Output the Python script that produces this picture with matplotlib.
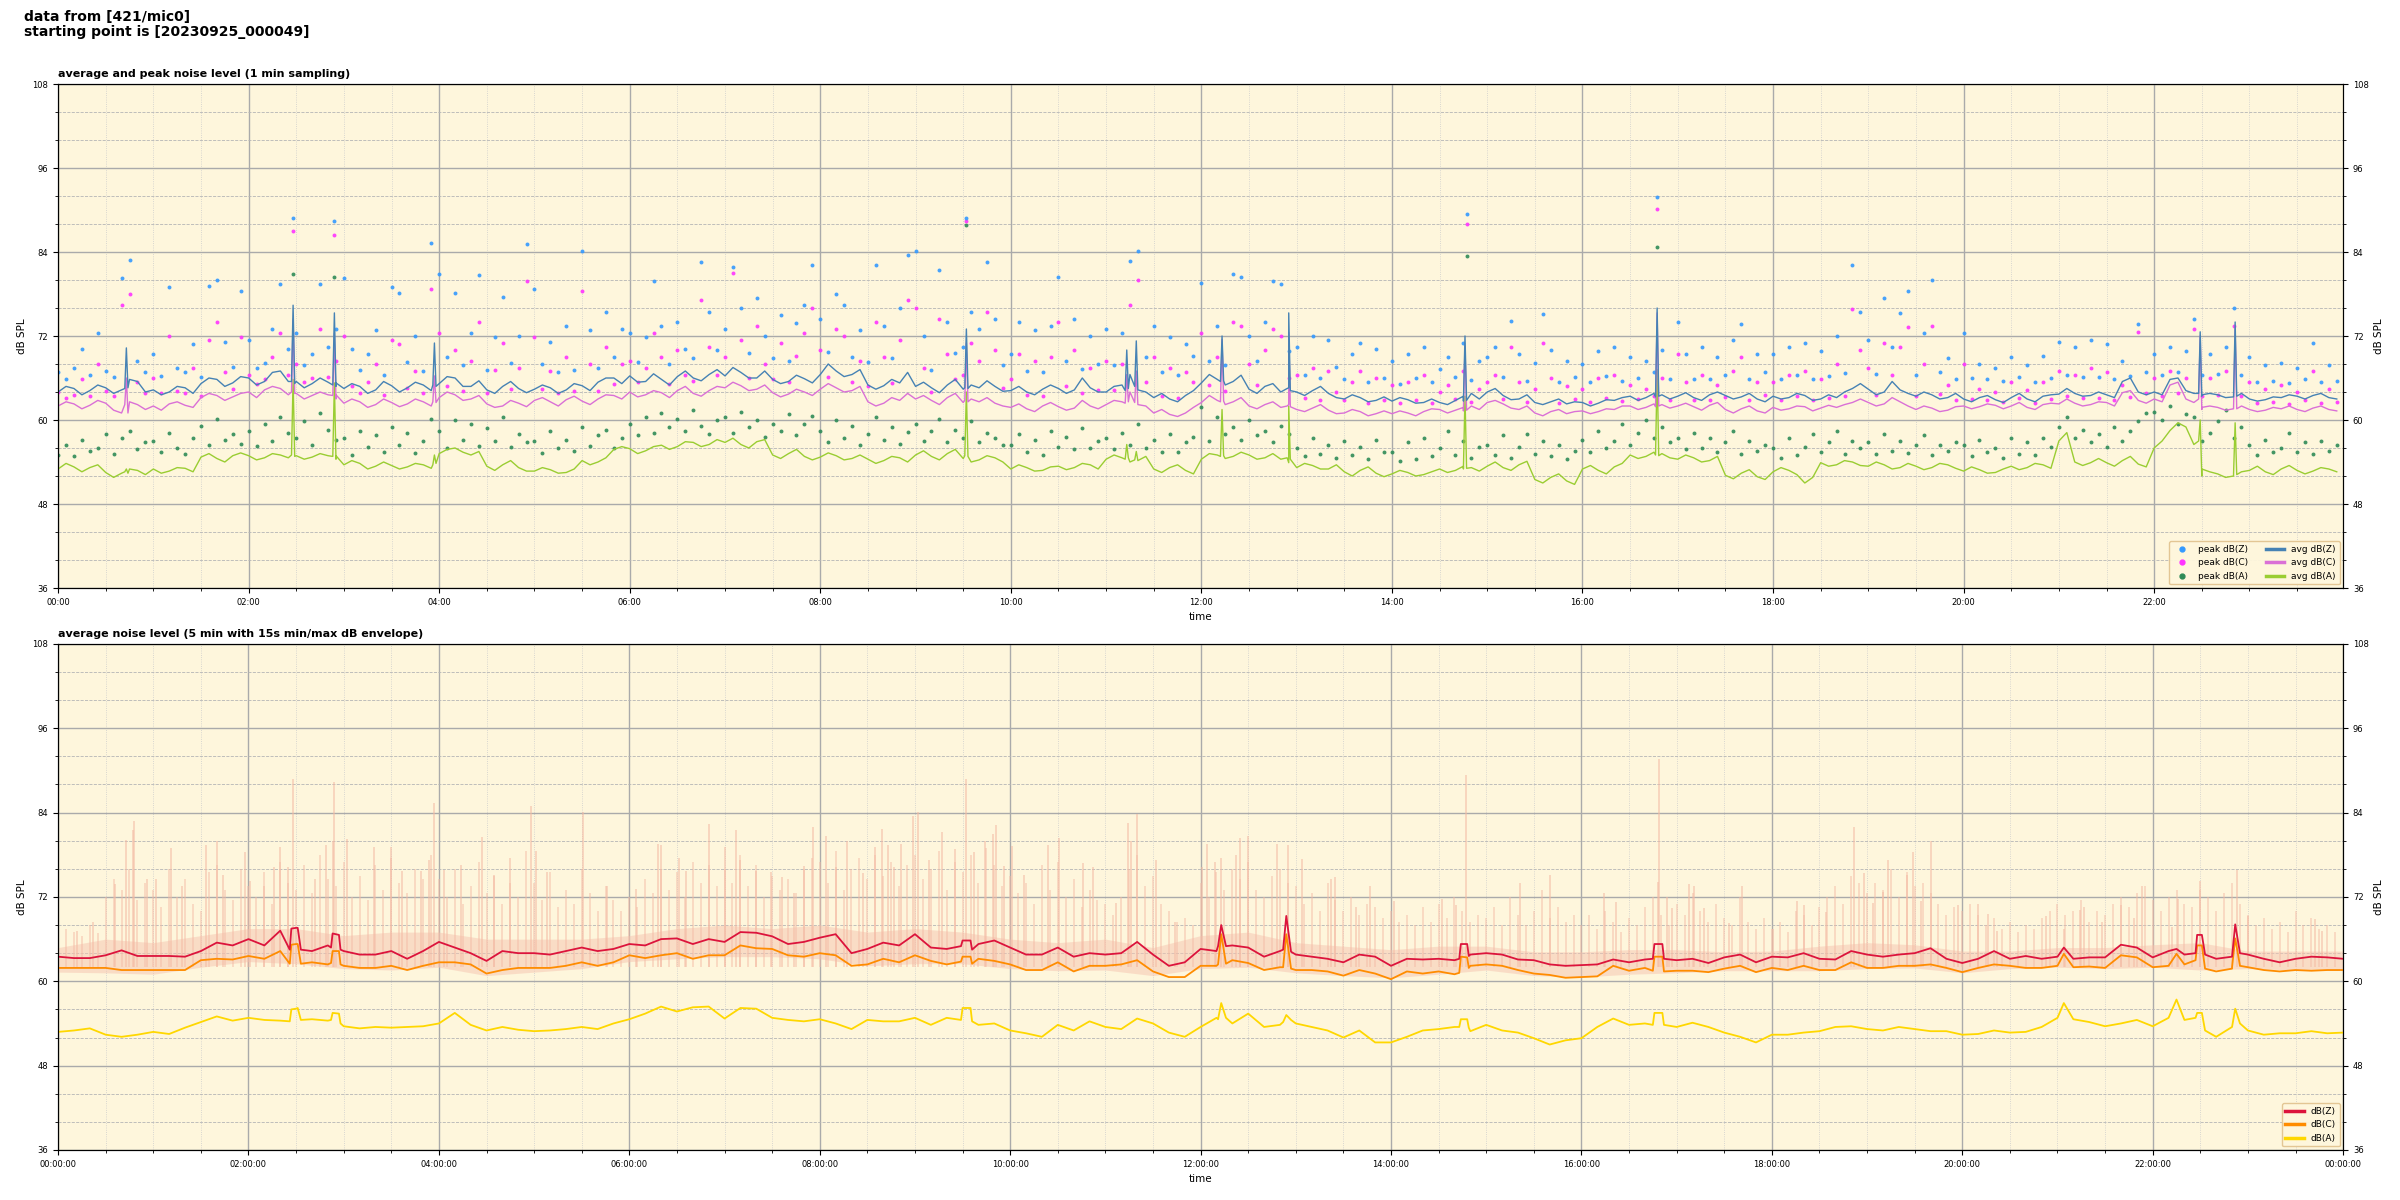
import numpy as np
import matplotlib
matplotlib.use("Agg")
import matplotlib.pyplot as plt
import matplotlib.dates as mdates
from matplotlib.ticker import MultipleLocator
from matplotlib.lines import Line2D

# --- 基本設定 ---
DAY0 = np.datetime64("2023-09-25T00:00")
BG = "#fef6dc"
ENV_BASE = 62.0


def tm(minutes):
    return DAY0 + np.asarray(minutes).astype("timedelta64[m]")


def merge(base_t, base_v, ev_t, ev_v):
    t = np.concatenate([base_t, ev_t])
    v = np.concatenate([base_v, ev_v])
    o = np.argsort(t, kind="stable")
    return t[o], v[o]


# --- 上段: 1分サンプリング (5分ごとに読み取り) ---
t5 = np.arange(0, 1440, 5)
avg_z = [
    64.0, 64.8, 64.5, 63.6, 64.2, 65.0, 64.6, 63.8, 64.3, 65.8, 65.5, 64.0,
    64.3, 63.6, 64.0, 64.8, 64.6, 63.8, 65.2, 66.0, 65.8, 64.8, 65.3, 66.2,
    66.0, 65.0, 65.5, 66.8, 67.0, 65.5, 65.5, 64.6, 65.2, 66.0, 65.4, 64.8,
    64.5, 65.2, 64.8, 63.8, 64.3, 65.5, 64.9, 64.0, 64.6, 65.4, 65.0, 64.2,
    65.2, 66.2, 66.0, 64.8, 64.8, 65.6, 64.3, 63.8, 64.8, 65.5, 64.5, 63.9,
    64.4, 65.0, 64.6, 63.8, 64.3, 65.2, 64.9, 64.2, 65.4, 66.0, 66.0, 65.2,
    66.3, 65.4, 65.5, 66.6, 65.8, 65.0, 66.2, 67.0, 66.0, 65.6, 66.5, 67.2,
    66.3, 67.5, 66.8, 66.0, 66.0, 67.0, 65.8, 65.2, 65.5, 66.4, 65.9, 65.3,
    66.5, 68.0, 67.0, 66.2, 66.5, 67.2, 65.0, 64.4, 64.9, 65.8, 65.3, 66.8,
    64.8, 65.4, 64.6, 63.9, 65.0, 65.8, 64.4, 65.0, 64.6, 65.6, 64.8, 64.1,
    64.2, 64.8, 64.0, 63.6, 64.4, 65.0, 64.5, 63.8, 64.3, 66.0, 64.6, 64.0,
    64.0, 64.8, 65.0, 66.5, 64.5, 64.0, 63.2, 63.8, 63.0, 62.6, 63.5, 64.2,
    65.3, 66.5, 65.8, 65.0, 65.5, 66.4, 64.4, 63.8, 64.8, 65.2, 64.0, 64.6,
    64.0, 63.5, 64.2, 64.8, 63.8, 63.2, 63.0, 63.6, 63.2, 62.6, 62.8, 63.3,
    62.7, 63.2, 62.9, 62.4, 62.5, 63.0, 62.5, 62.2, 62.8, 63.4, 63.8, 63.0,
    64.0, 64.5, 63.5, 62.9, 63.0, 63.6, 62.5, 62.2, 62.6, 63.0, 62.3, 62.6,
    62.5, 62.0, 62.4, 62.9, 62.8, 63.2, 63.4, 62.8, 63.2, 63.8, 63.6, 63.0,
    63.4, 63.9, 63.2, 62.8, 63.6, 64.0, 63.5, 63.0, 63.3, 63.8, 63.0, 62.6,
    63.4, 63.0, 63.2, 63.8, 63.5, 62.8, 63.0, 63.6, 63.2, 64.0, 64.5, 65.2,
    64.4, 63.6, 64.0, 65.5, 64.3, 63.8, 63.4, 64.0, 63.6, 63.0, 63.2, 63.8,
    63.0, 62.6, 63.2, 63.5, 62.9, 62.5, 63.2, 63.8, 63.0, 62.6, 63.4, 63.6,
    63.7, 64.5, 63.8, 63.4, 63.5, 64.0, 63.6, 63.2, 65.5, 66.0, 64.0, 63.6,
    64.0, 63.6, 65.8, 66.0, 64.2, 63.8, 63.4, 63.8, 63.6, 63.2, 63.3, 63.8,
    63.0, 62.7, 62.9, 63.3, 63.2, 63.6, 63.4, 63.0, 63.5, 63.8, 63.2, 63.0,
]
avg_c = [
    62.0, 62.6, 62.3, 61.6, 62.1, 62.8, 62.4, 61.4, 61.0, 62.6, 62.2, 61.5,
    62.0, 61.4, 62.3, 62.6, 62.1, 61.8, 63.2, 63.8, 63.5, 62.8, 63.3, 63.8,
    64.0, 63.2, 64.3, 64.8, 64.5, 63.6, 63.8, 63.0, 63.5, 64.0, 63.6, 63.0,
    62.4, 63.0, 62.6, 61.8, 62.2, 63.0, 62.5, 61.9, 62.3, 63.0, 62.6, 62.0,
    63.2, 64.0, 63.6, 62.8, 63.0, 63.5, 62.3, 61.8, 62.0, 62.8, 62.4, 61.9,
    62.8, 63.2, 62.6, 62.0, 62.9, 63.4, 62.7, 62.2, 63.0, 63.6, 63.5, 63.0,
    64.0, 63.3, 63.6, 64.2, 63.9, 63.2, 64.2, 64.8, 63.8, 63.4, 64.2, 64.8,
    64.6, 65.4, 64.9, 64.2, 64.4, 65.0, 63.9, 63.3, 63.7, 64.4, 64.0, 63.5,
    64.4, 65.2, 64.6, 64.0, 64.2, 64.8, 62.6, 62.0, 62.4, 63.2, 62.8, 63.8,
    63.0, 63.5, 62.8, 62.2, 63.2, 63.8, 62.5, 63.0, 62.6, 63.2, 62.4, 62.0,
    61.8, 62.3, 61.6, 61.2, 62.0, 62.5, 61.9, 61.4, 61.7, 62.8, 62.0, 61.6,
    62.2, 62.8, 62.6, 64.0, 62.4, 62.0, 61.0, 61.5, 60.8, 60.5, 61.0, 61.8,
    62.5, 63.5, 62.8, 62.2, 62.6, 63.2, 62.0, 61.6, 62.2, 62.6, 61.8, 62.2,
    61.5, 61.2, 61.7, 62.2, 61.4, 60.9, 61.0, 61.5, 61.2, 60.6, 60.9, 61.3,
    60.9, 61.3, 61.0, 60.6, 61.2, 61.6, 61.5, 61.0, 61.4, 61.8, 62.0, 61.5,
    62.5, 62.8, 62.3, 61.7, 61.5, 62.0, 61.0, 60.6, 61.2, 61.5, 60.9, 61.2,
    61.3, 60.9, 61.2, 61.6, 61.5, 62.0, 62.0, 61.5, 61.8, 62.3, 62.2, 61.7,
    62.0, 62.4, 61.9, 61.4, 62.1, 62.5, 61.5, 61.0, 61.6, 62.0, 61.3, 61.0,
    61.8, 61.4, 61.6, 62.0, 61.9, 61.3, 61.7, 62.1, 61.8, 62.2, 62.5, 63.0,
    62.5, 62.0, 62.3, 63.2, 62.6, 62.0, 61.5, 62.0, 61.7, 61.2, 61.4, 61.9,
    62.0, 61.6, 61.9, 62.3, 62.1, 61.6, 62.0, 62.5, 61.8, 61.5, 62.2, 62.4,
    62.3, 63.0, 62.4, 62.0, 62.2, 62.6, 62.5, 62.0, 63.9, 64.2, 62.8, 62.4,
    63.0, 62.6, 65.0, 65.4, 63.0, 62.5, 61.5, 62.0, 61.8, 61.4, 61.6, 62.0,
    61.5, 61.2, 61.4, 61.8, 61.6, 62.0, 61.5, 61.2, 61.7, 62.0, 61.5, 61.3,
]
avg_a = [
    53.0, 53.8, 53.3, 52.6, 53.2, 53.6, 52.5, 51.8, 52.4, 53.0, 52.8, 52.2,
    53.0, 52.4, 52.7, 53.2, 53.1, 52.6, 54.7, 55.2, 54.5, 54.0, 54.9, 55.3,
    54.9, 54.3, 54.6, 55.2, 55.0, 54.6, 54.9, 54.4, 54.7, 55.2, 54.9, 54.4,
    53.6, 54.2, 53.8, 53.0, 53.4, 54.0, 53.5, 53.0, 53.3, 53.8, 53.6, 53.1,
    55.2, 55.8, 56.0, 55.4, 55.0, 55.5, 53.4, 52.8, 53.6, 54.2, 53.2, 52.7,
    52.7, 53.2, 52.9, 52.4, 52.5, 53.0, 54.2, 53.6, 54.0, 54.6, 55.8, 56.2,
    55.9, 55.2, 55.6, 56.2, 56.4, 55.8, 56.2, 56.9, 56.8, 56.2, 56.5, 57.2,
    56.8, 57.4, 56.5, 56.0, 56.9, 57.2, 55.0, 54.5, 55.2, 55.8, 54.8, 54.3,
    54.7, 55.3, 54.9, 54.3, 54.5, 55.0, 54.4, 53.8, 54.2, 54.8, 54.6, 54.0,
    55.0, 55.6, 54.8, 54.3, 55.2, 55.8, 54.5, 54.0, 54.3, 54.9, 54.6, 54.0,
    53.0, 53.6, 53.2, 52.7, 52.8, 53.3, 53.4, 52.9, 53.2, 53.8, 53.6, 53.0,
    54.4, 55.0, 54.6, 54.0, 54.2, 54.8, 53.0, 52.5, 53.2, 53.6, 52.8, 52.3,
    54.4, 55.2, 55.0, 54.5, 54.8, 55.4, 55.0, 54.4, 54.6, 55.2, 54.4, 53.9,
    53.2, 53.8, 53.5, 53.0, 53.0, 53.6, 52.6, 52.0, 52.8, 53.3, 52.4, 51.9,
    52.3, 52.8, 52.5, 52.0, 52.2, 52.6, 53.0, 52.5, 52.8, 53.4, 53.2, 52.7,
    53.4, 54.0, 53.2, 52.8, 53.6, 54.1, 51.5, 51.0, 51.8, 52.3, 51.3, 50.8,
    53.0, 53.5, 52.8, 52.3, 53.3, 53.8, 55.0, 54.5, 54.8, 55.4, 55.2, 54.6,
    54.4, 55.0, 54.6, 54.0, 54.2, 54.8, 52.1, 51.6, 52.4, 52.9, 51.9, 51.5,
    52.6, 53.2, 52.8, 52.2, 51.0, 51.8, 53.9, 53.4, 53.6, 54.2, 54.0, 53.5,
    53.4, 54.0, 53.6, 53.0, 53.2, 53.8, 53.4, 52.9, 53.2, 53.8, 53.6, 53.1,
    52.7, 53.3, 52.9, 52.4, 52.5, 53.0, 53.4, 52.9, 53.2, 53.8, 53.6, 53.1,
    57.0, 58.2, 54.0, 53.5, 53.9, 54.5, 53.9, 53.4, 54.2, 54.8, 53.7, 53.3,
    56.0, 57.0, 58.5, 59.6, 59.0, 56.5, 52.0, 52.6, 52.3, 51.8, 52.0, 52.6,
    52.8, 53.4, 52.6, 52.2, 53.0, 53.5, 52.8, 52.3, 52.7, 53.2, 53.0, 52.6,
]
# スパイク (分, Z, C, A)
spk_t = [42, 43, 44, 147, 148, 149, 173, 174, 175, 236, 237, 238,
         571, 572, 573, 672, 673, 674, 678, 679, 680, 732, 733, 734,
         774, 775, 776, 885, 886, 887, 1006, 1007, 1008,
         1348, 1349, 1350, 1370, 1371, 1372]
spk_z = [64.5, 70.3, 64.6, 65.5, 76.4, 65.2, 65.0, 75.3, 65.3, 65.0, 71.0, 64.8,
         64.6, 73.0, 64.5, 64.2, 70.0, 64.5, 64.8, 71.3, 64.3, 65.5, 72.0, 65.6,
         64.5, 75.3, 64.2, 62.7, 72.0, 62.8, 63.3, 76.0, 63.4,
         63.8, 72.6, 63.6, 63.5, 74.0, 63.4]
spk_c = [62.2, 66.0, 61.0, 64.0, 74.4, 63.8, 63.5, 72.4, 63.6, 62.6, 66.3, 62.5,
         62.8, 71.0, 62.6, 62.4, 66.5, 62.6, 62.5, 67.0, 62.2, 62.6, 71.5, 62.7,
         62.0, 72.5, 61.9, 61.3, 70.6, 61.4, 61.9, 75.3, 62.0,
         63.0, 72.0, 61.8, 61.7, 73.0, 61.6]
spk_a = [52.6, 53.0, 52.4, 55.0, 65.8, 54.8, 54.8, 65.3, 54.9, 53.6, 55.0, 53.8,
         54.9, 64.0, 54.8, 54.4, 56.5, 54.6, 54.3, 55.5, 54.2, 54.8, 61.5, 54.9,
         54.6, 62.0, 54.4, 53.0, 63.4, 53.1, 55.0, 67.2, 54.9,
         57.0, 60.0, 53.0, 52.3, 59.6, 52.2]

# ピーク値 (5分ごと)
peak_z = [
    66.8, 65.9, 67.5, 70.2, 66.4, 72.5, 67.0, 66.2, 80.3, 82.8, 68.5, 66.9,
    69.5, 66.3, 79.0, 67.4, 66.8, 70.8, 66.1, 79.2, 80.0, 71.2, 67.6, 78.5,
    71.5, 67.4, 68.2, 73.0, 79.4, 70.2, 72.5, 67.8, 69.5, 79.4, 70.5, 73.0,
    80.3, 70.1, 67.2, 69.4, 72.8, 66.5, 79.0, 78.2, 68.3, 72.0, 67.0, 85.3,
    80.8, 69.0, 78.2, 67.8, 72.5, 80.7, 67.1, 71.8, 77.6, 68.2, 72.0, 85.1,
    78.7, 68.0, 71.2, 66.9, 73.5, 67.2, 84.1, 72.8, 67.5, 75.5, 69.0, 73.0,
    72.5, 68.3, 71.8, 79.9, 73.5, 68.0, 74.0, 70.2, 68.8, 82.6, 75.5, 70.0,
    73.0, 81.8, 76.0, 69.6, 77.5, 72.0, 68.9, 75.0, 68.5, 73.8, 76.5, 82.1,
    74.5, 69.7, 78.0, 76.5, 69.0, 72.8, 68.3, 82.1, 73.5, 68.8, 76.0, 83.6,
    84.2, 72.0, 67.2, 81.5, 74.0, 69.6, 70.5, 75.5, 73.0, 82.6, 74.5, 67.9,
    69.5, 74.0, 67.0, 72.8, 66.9, 73.5, 80.5, 68.4, 74.5, 67.3, 72.0, 68.0,
    73.0, 67.8, 72.5, 82.7, 84.1, 69.0, 73.5, 66.8, 71.8, 66.4, 70.8, 69.2,
    79.6, 68.5, 73.5, 67.8, 80.8, 80.5, 72.0, 68.4, 74.0, 79.8, 79.5, 69.8,
    70.5, 66.4, 72.0, 66.0, 71.5, 67.6, 65.8, 69.5, 71.0, 65.4, 70.2, 66.0,
    68.5, 65.2, 69.5, 66.0, 70.5, 65.5, 67.3, 69.0, 66.2, 71.0, 65.7, 68.5,
    69.0, 70.5, 66.2, 74.2, 69.5, 65.6, 68.2, 75.2, 70.0, 65.4, 68.5, 66.1,
    68.0, 65.5, 69.8, 66.3, 70.5, 65.6, 69.0, 66.0, 68.5, 66.8, 70.0, 65.9,
    74.0, 69.5, 65.8, 70.5, 65.9, 69.0, 66.4, 71.5, 73.7, 65.8, 69.5, 66.9,
    69.5, 65.9, 70.5, 66.5, 71.0, 65.8, 69.8, 66.3, 72.0, 66.7, 82.1, 75.4,
    71.5, 66.6, 77.4, 70.5, 75.3, 78.5, 66.5, 72.5, 80.0, 66.8, 68.8, 65.9,
    72.4, 66.0, 68.0, 65.8, 67.5, 65.6, 69.0, 66.2, 67.8, 65.5, 69.2, 66.0,
    71.2, 66.4, 70.5, 66.1, 71.5, 66.2, 70.8, 65.9, 68.5, 66.3, 73.7, 66.8,
    69.5, 66.5, 70.5, 66.8, 69.8, 74.5, 66.4, 69.5, 66.6, 70.5, 76.0, 66.5,
    69.0, 65.4, 67.8, 65.6, 68.2, 65.3, 67.5, 65.8, 71.0, 65.4, 67.8, 65.6,
]
peak_c = [
    64.0, 63.2, 63.6, 65.8, 63.4, 68.0, 64.2, 63.5, 76.4, 78.0, 65.5, 63.9,
    66.0, 63.8, 72.0, 64.2, 63.9, 67.5, 63.4, 71.5, 74.0, 66.8, 64.5, 71.8,
    66.5, 65.2, 65.8, 69.0, 72.5, 66.4, 68.0, 65.5, 66.0, 73.0, 66.2, 68.5,
    72.0, 64.8, 63.8, 65.5, 68.0, 63.6, 71.5, 70.8, 64.6, 67.0, 63.9, 78.7,
    72.5, 64.9, 70.0, 64.2, 68.5, 74.0, 63.8, 67.2, 71.0, 64.5, 67.5, 79.8,
    71.8, 64.4, 67.0, 63.9, 69.0, 64.1, 78.5, 68.0, 64.2, 70.5, 65.2, 68.0,
    68.5, 65.4, 67.5, 72.5, 69.0, 65.2, 70.0, 66.5, 65.6, 77.1, 70.5, 66.4,
    69.0, 81.0, 71.5, 66.0, 73.5, 68.0, 65.8, 71.0, 65.5, 69.2, 72.5, 76.0,
    70.0, 66.1, 73.0, 72.0, 65.4, 68.5, 64.9, 74.0, 69.0, 65.3, 71.5, 77.2,
    76.0, 67.5, 64.0, 74.5, 69.5, 65.8, 66.5, 71.0, 68.5, 75.5, 70.0, 64.6,
    65.8, 69.5, 63.6, 68.5, 63.4, 69.0, 74.0, 64.9, 70.0, 63.8, 67.5, 64.3,
    68.5, 64.3, 68.0, 76.5, 80.0, 65.5, 69.0, 63.5, 67.5, 63.2, 66.8, 65.4,
    72.5, 65.0, 69.0, 64.2, 74.0, 73.5, 68.0, 65.0, 70.0, 73.0, 72.0, 66.0,
    66.5, 63.2, 67.5, 62.9, 67.0, 64.0, 62.8, 65.5, 67.0, 62.5, 66.0, 62.9,
    65.0, 62.4, 65.5, 62.9, 66.5, 62.5, 64.0, 65.0, 63.0, 67.0, 62.6, 64.5,
    65.5, 66.5, 63.0, 70.5, 65.5, 62.6, 64.5, 71.0, 66.0, 62.4, 64.8, 63.0,
    64.5, 62.6, 66.0, 63.2, 66.5, 62.7, 65.0, 63.0, 64.5, 63.5, 66.0, 62.8,
    69.5, 65.5, 62.8, 66.5, 62.9, 65.0, 63.3, 67.0, 69.0, 62.8, 65.5, 63.6,
    65.5, 62.9, 66.5, 63.4, 67.0, 62.8, 65.8, 63.2, 68.0, 63.5, 75.8, 70.0,
    67.5, 63.6, 71.0, 66.5, 70.5, 73.3, 63.4, 68.0, 73.5, 63.7, 65.0, 62.9,
    68.0, 63.0, 64.5, 62.8, 64.0, 62.6, 65.5, 63.2, 64.3, 62.5, 65.5, 63.0,
    67.0, 63.4, 66.5, 63.1, 67.5, 63.2, 66.8, 62.9, 65.0, 63.3, 72.6, 63.8,
    66.0, 63.5, 67.0, 63.8, 66.0, 73.0, 63.4, 66.0, 63.6, 67.0, 73.5, 63.5,
    65.5, 62.4, 64.5, 62.6, 65.0, 62.3, 64.0, 62.8, 67.0, 62.4, 64.5, 62.6,
]
peak_a = [
    55.0, 56.5, 54.8, 57.2, 55.6, 56.0, 58.0, 55.2, 57.5, 58.5, 55.8, 56.8,
    57.0, 55.4, 58.2, 56.0, 55.2, 57.5, 59.2, 56.4, 60.2, 57.2, 58.0, 56.6,
    58.4, 56.3, 59.5, 57.0, 60.5, 58.2, 57.4, 59.8, 56.5, 61.0, 58.6, 57.2,
    57.5, 55.0, 58.5, 56.2, 57.8, 55.5, 59.0, 56.4, 58.2, 55.3, 57.0, 60.2,
    58.5, 56.0, 60.0, 57.2, 59.5, 56.3, 58.8, 57.0, 60.5, 56.2, 58.0, 56.9,
    57.0, 55.3, 58.5, 56.0, 57.2, 55.6, 59.0, 56.3, 57.8, 58.6, 56.0, 57.5,
    59.5, 57.8, 60.5, 58.2, 61.0, 59.0, 60.2, 58.5, 61.5, 59.2, 58.0, 60.0,
    60.5, 58.2, 61.2, 59.0, 60.0, 57.6, 59.5, 58.4, 60.8, 57.8, 59.4, 60.6,
    58.5, 56.8, 60.0, 57.5, 59.2, 56.4, 58.0, 60.5, 57.2, 59.0, 56.6, 58.3,
    59.5, 57.0, 58.4, 60.2, 56.8, 58.6, 57.5, 59.8, 56.9, 58.2, 57.4, 56.5,
    56.5, 58.0, 55.4, 57.2, 55.0, 58.5, 56.2, 57.6, 55.8, 58.8, 56.0, 57.0,
    57.5, 55.8, 58.2, 56.5, 59.5, 56.0, 57.2, 55.5, 58.0, 55.4, 56.8, 57.6,
    61.8, 57.0, 60.5, 58.0, 59.0, 57.2, 60.0, 57.8, 58.5, 56.8, 59.2, 58.0,
    56.0, 54.8, 57.5, 55.2, 56.5, 54.6, 57.0, 55.0, 56.2, 54.5, 57.2, 55.4,
    55.5, 54.2, 56.8, 54.5, 57.5, 54.8, 56.0, 58.5, 55.0, 57.0, 54.6, 56.2,
    56.5, 55.0, 57.8, 54.6, 56.2, 58.0, 55.2, 57.0, 54.8, 56.5, 54.4, 55.6,
    57.2, 55.5, 58.5, 56.0, 57.0, 59.5, 56.5, 58.2, 60.0, 57.5, 59.0, 56.8,
    57.5, 55.8, 58.2, 56.0, 57.4, 55.5, 56.8, 58.5, 55.2, 57.0, 55.6, 56.4,
    56.0, 54.6, 57.5, 55.0, 56.2, 58.0, 55.4, 56.8, 58.5, 55.2, 57.0, 56.0,
    56.8, 55.2, 58.0, 55.6, 57.0, 55.3, 56.5, 57.8, 55.0, 56.4, 55.6, 56.9,
    56.5, 54.8, 57.2, 55.5, 56.0, 54.6, 57.5, 55.2, 56.8, 55.0, 57.5, 56.2,
    59.0, 60.5, 57.5, 58.6, 56.8, 58.0, 56.2, 59.0, 57.0, 58.4, 59.8, 61.0,
    61.2, 60.0, 62.0, 59.5, 60.8, 60.5, 57.0, 58.2, 59.8, 61.5, 57.5, 59.0,
    56.5, 55.0, 57.2, 55.4, 56.0, 58.2, 55.5, 56.8, 55.2, 57.0, 55.6, 56.5,
]
# 大きなピーク (分, Z, C, A)
pk_ev_t = [148, 174, 572, 887, 1007]
pk_ev_z = [88.8, 88.5, 88.9, 89.5, 91.8]
pk_ev_c = [87.0, 86.4, 88.5, 88.0, 90.1]
pk_ev_a = [80.8, 80.5, 87.9, 83.5, 84.7]

# --- 下段: 5分平均 (10分ごとに読み取り) ---
t10_bot = np.arange(0, 1441, 10)
bot_z = [
    63.5, 63.3, 63.3, 63.7, 64.4, 63.6,  63.6, 63.6, 63.5, 64.3, 65.5, 65.1,
    66.0, 65.1, 67.2, 67.6, 64.3, 65.1,  64.3, 63.8, 63.8, 64.3, 63.2, 64.3,
    65.6, 64.8, 64.0, 62.9, 64.3, 64.0,  64.0, 63.8, 64.3, 64.8, 64.3, 64.6,
    65.3, 65.1, 66.0, 66.1, 65.3, 66.0,  65.6, 67.0, 66.9, 66.4, 65.3, 65.6,
    66.2, 66.7, 64.0, 64.6, 65.5, 65.1,  66.7, 64.8, 64.6, 65.8, 65.3, 65.8,
    64.8, 63.8, 63.8, 64.8, 63.5, 64.0,  63.8, 64.0, 65.6, 63.8, 62.2, 62.7,
    64.6, 64.3, 65.1, 64.8, 63.5, 64.3,  63.8, 63.5, 63.2, 62.7, 63.8, 63.5,
    62.2, 63.2, 63.1, 63.2, 63.0, 63.8,  64.0, 63.8, 63.1, 63.0, 62.4, 62.2,
    62.3, 62.4, 63.1, 62.7, 63.1, 65.3,  63.0, 63.2, 62.6, 63.4, 63.8, 62.7,
    63.5, 63.4, 64.0, 63.2, 63.1, 64.3,  63.8, 63.5, 63.8, 64.0, 64.7, 63.2,
    62.6, 63.2, 64.3, 63.2, 63.6, 63.2,  63.5, 63.2, 63.4, 63.4, 65.2, 64.8,
    63.4, 64.3, 63.8, 66.6, 63.2, 63.5,  63.8, 63.2, 62.7, 63.2, 63.5, 63.4,
    63.2,
]
bot_c = [
    61.9, 61.9, 61.9, 61.9, 61.6, 61.6,  61.6, 61.6, 61.6, 63.0, 63.2, 63.1,
    63.6, 63.2, 64.3, 65.3, 62.7, 62.4,  62.2, 61.9, 61.9, 62.2, 61.6, 62.2,
    62.7, 62.7, 62.4, 61.1, 61.6, 61.9,  61.9, 61.9, 62.2, 62.7, 62.2, 62.7,
    63.7, 63.3, 63.7, 64.0, 63.2, 63.7,  63.7, 65.1, 64.7, 64.6, 63.7, 63.5,
    64.0, 63.7, 62.2, 62.4, 63.2, 62.7,  63.7, 62.9, 62.4, 63.5, 63.2, 62.9,
    62.4, 61.6, 61.6, 62.7, 61.4, 62.2,  62.2, 62.4, 63.0, 61.4, 60.6, 60.6,
    62.2, 62.2, 63.0, 62.6, 61.6, 62.0,  61.6, 61.6, 61.4, 60.8, 61.6, 61.1,
    60.3, 61.4, 61.1, 61.4, 61.0, 62.2,  62.4, 62.2, 61.6, 61.1, 60.9, 60.5,
    60.6, 60.7, 62.2, 61.5, 61.9, 63.5,  61.5, 61.5, 61.3, 61.8, 62.2, 61.3,
    61.9, 61.6, 62.2, 61.6, 61.6, 62.7,  61.9, 61.9, 62.2, 62.2, 62.4, 61.9,
    61.3, 61.9, 62.4, 62.2, 61.9, 61.9,  62.2, 62.0, 62.1, 61.9, 63.7, 63.4,
    62.0, 62.2, 62.4, 65.1, 61.4, 61.8,  62.0, 61.6, 61.4, 61.6, 61.5, 61.6,
    61.6,
]
bot_a = [
    52.8, 53.0, 53.3, 52.4, 52.1, 52.4,  52.8, 52.5, 53.4, 54.2, 55.0, 54.4,
    54.8, 54.5, 54.4, 56.1, 54.6, 54.4,  53.6, 53.3, 53.5, 53.4, 53.5, 53.6,
    54.0, 55.5, 53.8, 53.0, 53.5, 53.1,  52.9, 53.0, 53.2, 53.5, 53.2, 54.0,
    54.6, 55.4, 56.4, 55.7, 56.3, 56.4,  54.7, 56.2, 56.1, 54.8, 54.5, 54.3,
    54.6, 54.0, 53.2, 54.5, 54.3, 54.3,  54.8, 53.8, 54.8, 56.2, 53.8, 54.0,
    53.0, 52.6, 52.1, 53.8, 53.0, 54.3,  53.5, 53.2, 54.7, 54.0, 52.7, 52.1,
    53.5, 54.8, 54.0, 55.4, 53.5, 53.8,  54.0, 53.5, 53.0, 52.0, 53.0, 51.3,
    51.3, 52.1, 53.0, 53.2, 53.5, 52.9,  53.8, 53.0, 52.7, 51.9, 51.0, 51.6,
    51.9, 53.5, 54.7, 53.8, 54.0, 55.5,  53.5, 54.1, 53.5, 52.7, 52.1, 51.3,
    52.4, 52.4, 52.7, 52.9, 53.5, 53.6,  53.2, 53.0, 53.5, 53.2, 52.9, 52.9,
    52.4, 52.5, 53.0, 52.7, 52.8, 53.5,  54.8, 54.6, 54.2, 53.6, 54.0, 54.5,
    53.6, 54.8, 54.5, 55.5, 52.1, 53.5,  53.0, 52.4, 52.6, 52.6, 52.9, 52.6,
    52.7,
]
# 箱型の変化 (分, Z, C, A)
bev_t = [146, 147, 151, 153, 172, 173, 177, 178, 569, 570, 575, 576,
         731, 733, 736, 772, 774, 777, 883, 884, 888, 889,
         1005, 1006, 1011, 1012, 1264, 1335, 1347, 1348, 1351, 1353, 1370, 1372, 1375]
bev_z = [64.5, 67.5, 67.6, 64.5, 64.8, 66.8, 66.6, 64.5, 65.0, 65.8, 65.8, 64.5,
         65.0, 68.0, 65.0, 64.5, 69.3, 64.2, 63.2, 65.3, 65.3, 63.6,
         63.2, 65.3, 65.3, 63.2, 64.8, 64.6, 64.0, 66.6, 66.6, 63.8, 63.5, 68.1, 64.0]
bev_c = [62.5, 65.2, 65.3, 62.5, 62.6, 64.3, 64.3, 62.4, 62.8, 63.5, 63.5, 62.5,
         62.4, 66.7, 62.5, 62.0, 66.7, 61.8, 61.2, 63.5, 63.4, 61.9,
         61.5, 63.5, 63.5, 61.4, 63.9, 63.9, 63.0, 65.1, 65.1, 61.8, 62.0, 66.1, 62.2]
bev_a = [54.3, 56.0, 56.2, 54.5, 54.5, 55.5, 55.4, 54.0, 54.5, 56.2, 56.2, 54.3,
         54.6, 56.9, 54.8, 54.2, 55.2, 54.5, 53.5, 54.6, 54.6, 53.4,
         53.8, 55.5, 55.5, 53.8, 56.9, 57.4, 54.8, 55.5, 55.5, 53.0, 53.5, 56.1, 54.0]

# 15秒 min/max 包絡線: 帯 (30分ごと)
t30 = np.arange(0, 1441, 30)
env_lo = [61.3, 61.2, 61.0, 62.0, 62.8, 62.5, 61.8, 61.6, 62.0, 60.8, 61.3, 61.8,
          62.8, 63.2, 63.5, 63.5, 63.2, 62.2, 62.5, 62.5, 61.8, 61.5, 61.6, 60.8,
          61.8, 62.0, 61.2, 60.8, 60.5, 61.0, 61.6, 60.8, 60.6, 61.0, 61.2, 61.5,
          61.5, 61.5, 61.8, 61.9, 61.2, 61.8, 62.0, 61.8, 62.0, 61.6, 61.8, 61.6,
          61.6]
env_hi = [64.8, 66.0, 65.5, 66.5, 67.5, 67.5, 66.5, 67.0, 67.0, 66.0, 66.0, 66.0,
          66.5, 67.5, 68.0, 67.5, 68.0, 67.0, 67.5, 67.0, 66.0, 65.5, 66.0, 64.8,
          66.5, 67.0, 65.5, 65.0, 64.5, 65.0, 65.0, 64.2, 64.2, 64.5, 64.5, 64.2,
          64.3, 65.0, 65.5, 65.2, 64.3, 64.3, 64.8, 64.8, 65.2, 65.5, 64.3, 64.3,
          64.3]
# 包絡線の最大値 (5分ごと)
env_max = [
    66.0, 67.5, 67.0, 66.5, 68.0, 66.8, 72.0, 74.5, 73.0, 76.0, 71.5, 74.0,
    73.0, 70.5, 76.0, 72.0, 74.5, 71.0, 70.0, 75.5, 76.5, 73.0, 71.5, 76.0,
    73.5, 72.0, 75.5, 71.0, 77.0, 74.0, 73.0, 76.5, 72.5, 78.0, 74.5, 73.5,
    77.0, 72.0, 75.0, 71.5, 76.5, 73.0, 77.5, 74.0, 72.5, 76.0, 74.5, 78.0,
    74.5, 72.0, 76.0, 71.0, 73.5, 77.0, 72.5, 75.0, 71.0, 74.0, 72.0, 78.5,
    74.0, 71.5, 75.5, 70.5, 73.0, 71.0, 76.0, 72.5, 70.0, 73.5, 71.5, 70.0,
    72.0, 70.5, 74.5, 72.5, 76.0, 73.0, 75.5, 72.0, 77.0, 74.0, 76.5, 73.5,
    76.0, 74.0, 78.0, 73.5, 76.5, 72.0, 75.0, 73.0, 74.5, 72.5, 76.0, 77.5,
    77.0, 74.0, 78.5, 73.0, 76.0, 77.5, 74.5, 78.0, 75.0, 77.0, 73.5, 76.5,
    78.0, 74.5, 76.0, 78.5, 73.0, 77.0, 75.5, 78.0, 74.0, 79.0, 76.5, 73.5,
    75.0, 72.5, 74.0, 71.0, 76.5, 73.0, 77.0, 72.0, 74.5, 70.5, 73.0, 71.5,
    71.0, 69.5, 72.0, 76.0, 78.0, 73.5, 75.0, 71.0, 70.0, 68.5, 69.0, 68.0,
    74.0, 72.0, 75.5, 73.0, 76.0, 74.5, 77.0, 73.0, 72.0, 75.0, 76.0, 74.0,
    73.5, 71.0, 72.5, 70.0, 74.0, 71.5, 70.0, 72.0, 69.5, 71.0, 70.5, 69.0,
    70.0, 68.5, 69.5, 68.0, 70.5, 68.5, 71.0, 69.0, 72.0, 70.0, 68.5, 69.5,
    69.0, 70.5, 68.0, 72.0, 69.5, 68.0, 70.0, 73.0, 69.0, 70.5, 68.5, 69.5,
    68.0, 69.5, 67.5, 70.0, 68.5, 67.0, 69.0, 68.0, 70.5, 72.0, 69.5, 68.0,
    71.0, 69.5, 72.5, 70.0, 68.5, 71.0, 69.0, 68.0, 72.0, 68.5, 67.5, 69.0,
    67.5, 68.5, 67.0, 70.0, 69.5, 68.0, 70.5, 72.0, 73.5, 71.0, 75.0, 74.0,
    72.5, 74.0, 73.0, 76.0, 72.0, 75.5, 73.5, 74.0, 72.5, 71.0, 69.5, 70.5,
    70.0, 71.0, 69.5, 68.0, 69.0, 67.5, 68.5, 67.0, 68.0, 67.5, 69.0, 70.0,
    71.0, 69.5, 70.0, 71.5, 68.5, 70.0, 69.5, 71.0, 72.0, 70.5, 72.5, 73.5,
    71.5, 70.0, 72.0, 73.0, 71.0, 70.5, 73.0, 72.0, 70.0, 72.5, 74.0, 71.0,
    69.5, 68.0, 69.0, 67.5, 68.5, 67.0, 70.0, 68.0, 69.0, 67.5, 68.0, 67.0,
]
# 目立つスパイク
env_spk_t = [12, 22, 36, 43, 47, 48, 56, 62, 71, 78, 93, 100, 104, 118, 121, 130,
             136, 140, 145, 148, 162, 169, 173, 174, 182, 199, 210, 217, 229, 234,
             237, 243, 254, 267, 275, 285, 298, 301, 308, 331, 346, 364, 378, 380,
             391, 396, 410, 420, 427, 430, 440, 449, 456, 464, 470, 476, 484, 490,
             497, 507, 515, 519, 523, 527, 531, 539, 542, 549, 557, 565, 572, 577,
             584, 589, 591, 596, 601, 609, 624, 631, 646, 652, 667, 674, 676, 680,
             692, 704, 721, 724, 729, 733, 742, 745, 750, 768, 775, 784, 802, 805,
             818, 827, 842, 872, 881, 887, 921, 940, 974, 982, 1008, 1009, 1014,
             1017, 1028, 1031, 1037, 1053, 1061, 1081, 1096, 1100, 1114, 1132,
             1138, 1144, 1150, 1153, 1165, 1169, 1174, 1180, 1197, 1210, 1216,
             1222, 1253, 1264, 1274, 1277, 1288, 1300, 1308, 1313, 1332, 1336,
             1350, 1373, 1380, 1422, 1427]
env_spk_db = [67.2, 68.5, 73.8, 80.1, 81.5, 82.8, 74.6, 74.6, 78.9, 73.5, 79.4,
              79.9, 75.1, 78.4, 74.3, 73.5, 76.2, 79.1, 76.2, 88.8, 74.6, 79.4,
              79.9, 88.3, 80.3, 79.1, 79.1, 75.7, 75.7, 77.2, 85.3, 75.8, 76.5,
              80.5, 75.1, 77.5, 84.9, 78.6, 75.5, 84.1, 73.5, 73.2, 79.6, 79.4,
              77.5, 75.7, 82.4, 79.1, 81.5, 77.2, 75.7, 75.5, 74.9, 72.6, 76.4,
              81.9, 80.7, 76.2, 80.0, 75.4, 79.1, 81.7, 79.4, 76.2, 79.6, 83.5,
              84.1, 77.2, 81.3, 78.8, 88.8, 78.4, 80.0, 80.9, 82.3, 76.4, 79.2,
              75.1, 79.4, 80.4, 76.9, 76.2, 71.2, 82.5, 79.9, 83.8, 77.2, 68.5,
              76.2, 79.5, 77.0, 77.5, 77.9, 80.4, 80.7, 79.6, 79.4, 77.4, 74.6,
              74.9, 70.6, 73.5, 71.4, 71.7, 70.9, 89.4, 74.0, 75.1, 72.5, 71.3,
              74.1, 91.6, 72.0, 70.4, 73.8, 73.5, 70.4, 68.3, 73.6, 67.5, 71.4,
              70.9, 69.8, 82.0, 75.4, 71.2, 72.7, 77.2, 75.1, 78.4, 71.4, 79.9,
              70.9, 71.0, 69.6, 67.2, 69.3, 67.5, 70.1, 70.6, 68.5, 70.9, 69.0,
              73.5, 67.7, 71.7, 74.3, 75.9, 69.3, 68.8, 67.2]

# --- 描画 ---
plt.rcParams["font.family"] = "DejaVu Sans"
fig = plt.figure(figsize=(24, 12), dpi=100)
fig.text(0.01, 0.992, "data from [421/mic0]\nstarting point is [20230925_000049]",
         ha="left", va="top", fontsize=10, fontweight="bold", linespacing=1.1)

ax1 = fig.add_axes([0.0242, 0.51, 0.9521, 0.42])
ax2 = fig.add_axes([0.0242, 0.0417, 0.9521, 0.4217])


def style(ax, fmt, xmax_min):
    ax.set_facecolor(BG)
    ax.set_axisbelow(True)
    ax.set_xlim(DAY0, tm(xmax_min))
    ax.set_ylim(36, 108)
    ax.yaxis.set_major_locator(MultipleLocator(12))
    ax.yaxis.set_minor_locator(MultipleLocator(4))
    ax.xaxis.set_major_locator(mdates.HourLocator(interval=2))
    ax.xaxis.set_minor_locator(mdates.MinuteLocator(byminute=[0, 30]))
    ax.xaxis.set_major_formatter(mdates.DateFormatter(fmt))
    ax.grid(which="major", color="#aaaaaa", lw=1.0)
    ax.grid(which="minor", axis="y", color="#b5b5b5", lw=0.6, ls="--")
    ax.grid(which="minor", axis="x", color="#cccccc", lw=0.6, ls=":")
    ax.tick_params(which="both", labelsize=6)
    ax.set_ylabel("dB SPL", fontsize=7.5)
    ax.set_xlabel("time", fontsize=7.5)
    tw = ax.twinx()
    tw.set_ylim(36, 108)
    tw.yaxis.set_major_locator(MultipleLocator(12))
    tw.yaxis.set_minor_locator(MultipleLocator(4))
    tw.tick_params(which="both", labelsize=6)
    tw.set_ylabel("dB SPL", fontsize=7.5)


style(ax1, "%H:%M", 1439)
style(ax2, "%H:%M:%S", 1440)

# 上段
ax1.set_title("average and peak noise level (1 min sampling)", loc="left",
              fontsize=8, fontweight="bold", pad=5)
for vals, ev, col in [(peak_a, pk_ev_a, "#2e8b57"), (peak_c, pk_ev_c, "#ff33ff"),
                      (peak_z, pk_ev_z, "#3399ff")]:
    pt, pv = merge(t5, np.array(vals), np.array(pk_ev_t), np.array(ev))
    ax1.scatter(tm(pt), pv, s=8, color=col, lw=0, alpha=0.9, zorder=3)
for vals, ev, col in [(avg_a, spk_a, "yellowgreen"), (avg_c, spk_c, "orchid"),
                      (avg_z, spk_z, "steelblue")]:
    lt, lv = merge(t5, np.array(vals), np.array(spk_t), np.array(ev))
    ax1.plot(tm(lt), lv, color=col, lw=1.0, zorder=4)

h1 = [Line2D([], [], ls="", marker="o", ms=3.5, color=c)
      for c in ["#3399ff", "#ff33ff", "#2e8b57"]]
h1 += [Line2D([], [], lw=2.5, color=c) for c in ["steelblue", "orchid", "yellowgreen"]]
ax1.legend(h1, ["peak dB(Z)", "peak dB(C)", "peak dB(A)", "avg dB(Z)", "avg dB(C)", "avg dB(A)"],
           loc="lower right", ncol=2, fontsize=6.5, facecolor=BG, edgecolor="#e2c490",
           framealpha=0.95, borderaxespad=0.4)

# 下段
ax2.set_title("average noise level (5 min with 15s min/max dB envelope)", loc="left",
              fontsize=8, fontweight="bold", pad=5)
ax2.fill_between(tm(t30), env_lo, env_hi, color="#f6c4b0", alpha=0.5, lw=0, zorder=2)
ax2.vlines(tm(t5), ENV_BASE, env_max, color="#f4bba5", lw=1.1, alpha=0.6, zorder=2)
ax2.vlines(tm(env_spk_t), ENV_BASE, env_spk_db, color="#f4bba5", lw=1.1, alpha=0.7, zorder=2)
for vals, ev, col in [(bot_a, bev_a, "gold"), (bot_c, bev_c, "darkorange"),
                      (bot_z, bev_z, "crimson")]:
    lt, lv = merge(t10_bot, np.array(vals), np.array(bev_t), np.array(ev))
    ax2.plot(tm(lt), lv, color=col, lw=1.3, zorder=4)

h2 = [Line2D([], [], lw=2.5, color=c) for c in ["crimson", "darkorange", "gold"]]
ax2.legend(h2, ["dB(Z)", "dB(C)", "dB(A)"], loc="lower right", fontsize=6.5,
           facecolor=BG, edgecolor="#e2c490", framealpha=0.95, borderaxespad=0.4)

fig.savefig("out.png", dpi=100)
